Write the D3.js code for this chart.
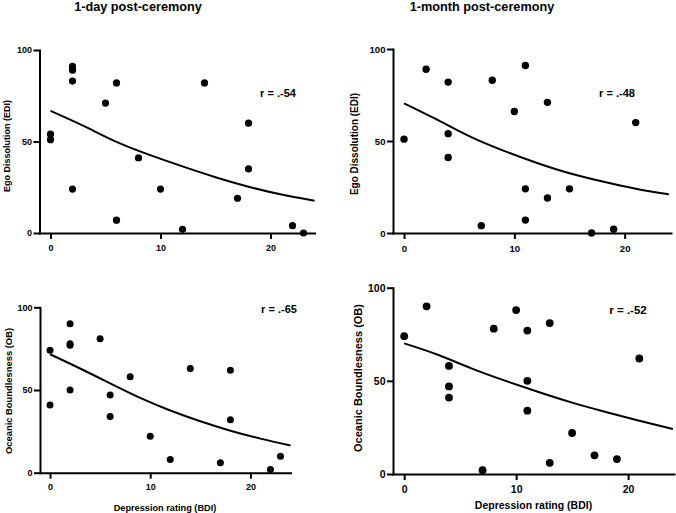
<!DOCTYPE html>
<html>
<head>
<meta charset="utf-8">
<script src="https://cdn.jsdelivr.net/npm/d3@7"></script>
<style>
  html, body { margin: 0; padding: 0; background: #fff; }
  svg { display: block; }
  text { font-family: "Liberation Sans", Arial, sans-serif; font-weight: bold; fill: #000; }
</style>
</head>
<body>
<svg id="chart" width="676" height="513"></svg>
<script>
// ---- Data ----
const xTicks = [0, 10, 20];
const yTicks = [0, 50, 100];

const day1EdiX = [0, 0, 2, 2, 2, 2, 5, 6, 6, 8, 10, 12, 14, 17, 18, 18, 22, 23];
const day1EdiY = [54, 51, 91, 89, 83, 24, 71, 82, 7, 41, 24, 2, 82, 19, 60, 35, 4, 0];

const month1EdiX = [0, 2, 4, 4, 4, 7, 8, 10, 11, 11, 11, 13, 13, 15, 17, 19, 21];
const month1EdiY = [51, 89, 82, 54, 41, 4, 83, 66, 91, 24, 7, 71, 19, 24, 0, 2, 60];

const day1ObX = [0, 0, 2, 2, 2, 2, 5, 6, 6, 8, 10, 12, 14, 17, 18, 18, 22, 23];
const day1ObY = [74, 41, 90, 78, 77, 50, 81, 47, 34, 58, 22, 8, 63, 6, 62, 32, 2, 10];

const month1ObX = [0, 2, 4, 4, 4, 7, 8, 10, 11, 11, 11, 13, 13, 15, 17, 19, 21];
const month1ObY = [74, 90, 58, 47, 41, 2, 78, 88, 77, 50, 34, 81, 6, 22, 10, 8, 62];

// fitted curves
const fitX = [0, 3, 6, 9, 12, 15, 18, 21, 24];
const fitDay1Edi = [66.7, 58.5, 49.8, 42.7, 36.4, 30.5, 25.3, 21.0, 17.6];
const fitMonth1Edi = [70.5, 61.6, 52.4, 44.8, 38.2, 32.5, 28.0, 24.1, 21.1];
const fitDay1Ob = [71.6, 63.0, 54.0, 45.2, 37.6, 31.1, 25.4, 20.6, 16.4];
const fitMonth1Ob = [70.1, 64.0, 56.7, 50.1, 44.0, 38.3, 33.3, 28.6, 24.2];

const titles = ["1-day post-ceremony", "1-month post-ceremony"];
const yTitles = ["Ego Dissolution (EDI)", "Oceanic Boundlesness (OB)"];
const xTitle = "Depression rating (BDI)";
const rLabels = ["r = .-54", "r = .-48", "r = .-65", "r = .-52"];

// ---- Layout (styles / positions) ----
const panels = [
  { xs: day1EdiX, ys: day1EdiY, fit: fitDay1Edi, title: titles[0], titleX: 138, titleY: 11,
    xRange: [39.5, 314.5], xMax: 24, yRange: [233, 50], yTitle: yTitles[0], yTitleX: 10, yTitleY: 146,
    yTitleSize: 9, tickFont: 9, xPad: 6, rText: rLabels[0], rX: 278, rY: 97, rSize: 11, dotR: 3.6 },
  { xs: month1EdiX, ys: month1EdiY, fit: fitMonth1Edi, title: titles[1], titleX: 482, titleY: 11,
    xRange: [393, 671], xMax: 24.2, yRange: [233, 49], yTitle: yTitles[0], yTitleX: 358, yTitleY: 144,
    yTitleSize: 10, tickFont: 9.6, xPad: 6, rText: rLabels[1], rX: 617, rY: 97, rSize: 11, dotR: 3.7 },
  { xs: day1ObX, ys: day1ObY, fit: fitDay1Ob, title: null,
    xRange: [40, 290.5], xMax: 24, yRange: [472.7, 307.3], yTitle: yTitles[1], yTitleX: 12, yTitleY: 391,
    yTitleSize: 9.4, tickFont: 9, xPad: 4.5, rText: rLabels[2], rX: 279, rY: 313, rSize: 11, dotR: 3.5,
    xTitle: xTitle, xTitleX: 165, xTitleY: 510.5, xTitleSize: 9.2 },
  { xs: month1ObX, ys: month1ObY, fit: fitMonth1Ob, title: null,
    xRange: [393, 674], xMax: 24.1, yRange: [474, 287.7], yTitle: yTitles[1], yTitleX: 362, yTitleY: 378,
    yTitleSize: 11, tickFont: 10.5, xPad: 5.5, rText: rLabels[3], rX: 628, rY: 314, rSize: 11.5, dotR: 3.9,
    xTitle: xTitle, xTitleX: 533.5, xTitleY: 509, xTitleSize: 10.5 }
];

const svg = d3.select("#chart");

panels.forEach(p => {
  const x = d3.scaleLinear().domain([-1, p.xMax]).range(p.xRange);
  const y = d3.scaleLinear().domain([0, 100]).range(p.yRange);
  const g = svg.append("g");

  // axes
  const xAxis = d3.axisBottom(x).tickValues(xTicks).tickSize(6).tickSizeOuter(0).tickPadding(p.xPad);
  const yAxis = d3.axisLeft(y).tickValues(yTicks).tickSize(6).tickSizeOuter(0).tickPadding(1.5);

  const gx = g.append("g").attr("transform", `translate(0,${p.yRange[0]})`).call(xAxis);
  const gy = g.append("g").attr("transform", `translate(${p.xRange[0]},0)`).call(yAxis);
  [gx, gy].forEach(a => {
    a.select(".domain").attr("stroke", "#000").attr("stroke-width", 2).attr("stroke-linecap", "square");
    a.selectAll(".tick line").attr("stroke", "#000").attr("stroke-width", 2);
    a.selectAll(".tick text")
      .style("font-family", '"Liberation Sans", Arial, sans-serif')
      .style("font-weight", "bold")
      .style("font-size", p.tickFont + "px")
      .attr("fill", "#000");
  });

  // fitted curve
  const line = d3.line()
    .x((d, i) => x(fitX[i]))
    .y(d => y(d))
    .curve(d3.curveNatural);
  g.append("path")
    .datum(p.fit)
    .attr("d", line)
    .attr("fill", "none")
    .attr("stroke", "#000")
    .attr("stroke-width", 2);

  // points
  g.selectAll("circle")
    .data(p.xs.map((v, i) => [v, p.ys[i]]))
    .join("circle")
    .attr("cx", d => x(d[0]))
    .attr("cy", d => y(d[1]))
    .attr("r", p.dotR)
    .attr("fill", "#000");

  // titles & labels
  if (p.title) {
    g.append("text").attr("x", p.titleX).attr("y", p.titleY)
      .attr("text-anchor", "middle").style("font-size", "12.7px").text(p.title);
  }
  g.append("text")
    .attr("transform", `translate(${p.yTitleX},${p.yTitleY}) rotate(-90)`)
    .attr("text-anchor", "middle")
    .style("font-size", p.yTitleSize + "px")
    .text(p.yTitle);
  g.append("text").attr("x", p.rX).attr("y", p.rY)
    .attr("text-anchor", "middle").style("font-size", p.rSize + "px").text(p.rText);
  if (p.xTitle) {
    g.append("text").attr("x", p.xTitleX).attr("y", p.xTitleY)
      .attr("text-anchor", "middle").style("font-size", p.xTitleSize + "px").text(p.xTitle);
  }
});
</script>
</body>
</html>
